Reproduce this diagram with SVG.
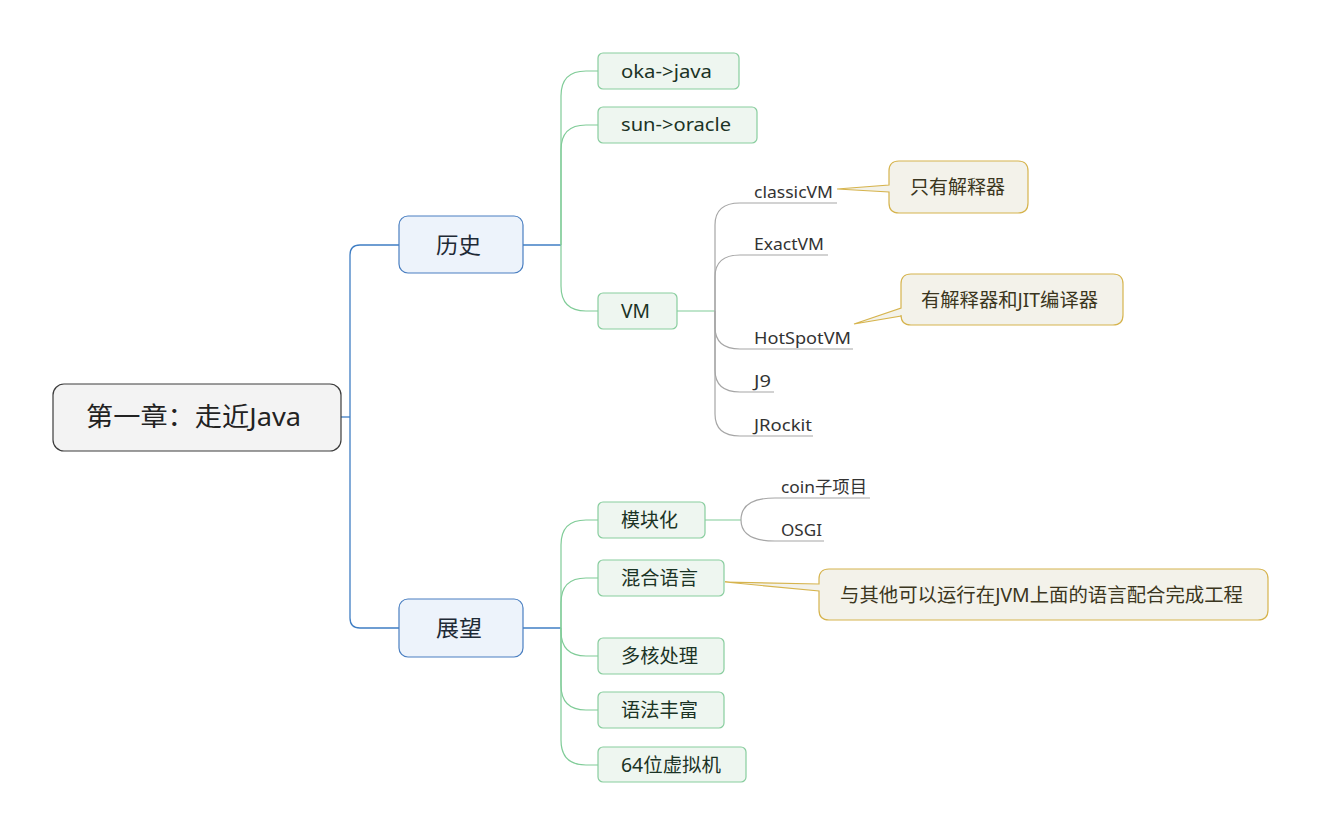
<svg xmlns="http://www.w3.org/2000/svg" width="1322" height="836" viewBox="0 0 1322 836">
<style>
text{font-family:"Noto Sans","Noto Sans CJK SC",sans-serif;}
.root rect{fill:#f3f3f3;stroke:#3c3c3c;stroke-width:1.2;}
.root text{font-size:26px;fill:#222;}
.main rect{fill:#edf3fb;stroke:#4a7fc1;stroke-width:1.2;}
.main text{font-size:22px;fill:#1e2a36;}
.sub rect{fill:#eef6f0;stroke:#88cd9e;stroke-width:1.2;}
.sub text{font-size:19px;fill:#1b3325;}
.leaf text{font-size:17px;fill:#333;}
.note path{fill:#f3f2ea;stroke:#d6b44e;stroke-width:1.2;}
.note text{font-size:19px;fill:#3b3620;}
.blue{fill:none;stroke:#3f7ec4;stroke-width:1.3;}
.green{fill:none;stroke:#80cc98;stroke-width:1.2;}
.gray{fill:none;stroke:#a6a6a6;stroke-width:1.2;}
</style>
<rect width="1322" height="836" fill="#ffffff"/>
<g id="connectors">
<path class="blue" d="M341,417 H350"/>
<path class="blue" d="M350,417 V255 Q350,245 360,245 H399"/>
<path class="blue" d="M350,417 V618 Q350,628 360,628 H399"/>
<path class="blue" d="M523,245 H561"/>
<path class="blue" d="M523,628 H561"/>
<path class="green" d="M561,245 V96 Q561,71 586,71 H598"/>
<path class="green" d="M561,245 V150 Q561,125 586,125 H598"/>
<path class="green" d="M561,245 V286 Q561,311 586,311 H598"/>
<path class="green" d="M561,628 V545 Q561,520 586,520 H598"/>
<path class="green" d="M561,628 V603 Q561,578 586,578 H598"/>
<path class="green" d="M561,628 V631 Q561,656 586,656 H598"/>
<path class="green" d="M561,628 V685 Q561,710 586,710 H598"/>
<path class="green" d="M561,628 V740 Q561,765 586,765 H598"/>
<path class="green" d="M677,311 H715"/>
<path class="green" d="M705,520 H741"/>
<path class="gray" d="M715,311 V225 Q715,203 740,203 H837"/>
<path class="gray" d="M715,311 V277 Q715,255 740,255 H828"/>
<path class="gray" d="M715,311 V327 Q715,349 740,349 H853"/>
<path class="gray" d="M715,311 V370 Q715,392 740,392 H774"/>
<path class="gray" d="M715,311 V414 Q715,436 740,436 H813"/>
<path class="gray" d="M741,520 Q741,498 775,498 H870"/>
<path class="gray" d="M741,520 Q741,541 775,541 H824"/>
</g>
<g id="root" class="root">
<rect x="53" y="384" width="288" height="67" rx="11"/>
<text x="86" y="426" textLength="215" lengthAdjust="spacingAndGlyphs">第一章：走近Java</text>
</g>
<g id="history" class="main">
<rect x="399" y="216" width="124" height="57" rx="9"/>
<text x="436" y="253" textLength="45" lengthAdjust="spacingAndGlyphs">历史</text>
</g>
<g id="outlook" class="main">
<rect x="399" y="599" width="124" height="58" rx="9"/>
<text x="436" y="636" textLength="46" lengthAdjust="spacingAndGlyphs">展望</text>
</g>
<g id="oka" class="sub">
<rect x="598" y="53" width="141" height="36" rx="5"/>
<text x="621" y="78" textLength="91" lengthAdjust="spacingAndGlyphs" style="font-size:18px">oka-&gt;java</text>
</g>
<g id="sun" class="sub">
<rect x="598" y="107" width="159" height="36" rx="5"/>
<text x="621" y="131" textLength="110" lengthAdjust="spacingAndGlyphs" style="font-size:18px">sun-&gt;oracle</text>
</g>
<g id="vm" class="sub">
<rect x="598" y="293" width="79" height="36" rx="5"/>
<text x="621" y="318" textLength="29" lengthAdjust="spacingAndGlyphs">VM</text>
</g>
<g id="classicvm" class="leaf"><text x="754" y="197.5" textLength="79" lengthAdjust="spacingAndGlyphs">classicVM</text></g>
<g id="exactvm" class="leaf"><text x="754" y="249.5" textLength="70" lengthAdjust="spacingAndGlyphs">ExactVM</text></g>
<g id="hotspotvm" class="leaf"><text x="754" y="343.5" textLength="97" lengthAdjust="spacingAndGlyphs">HotSpotVM</text></g>
<g id="j9" class="leaf"><text x="754" y="386.5" textLength="17" lengthAdjust="spacingAndGlyphs">J9</text></g>
<g id="jrockit" class="leaf"><text x="754" y="430.5" textLength="58" lengthAdjust="spacingAndGlyphs">JRockit</text></g>
<g id="note-classic" class="note">
<path d="M899,161 H1018 Q1028,161 1028,171 V203 Q1028,213 1018,213 H899 Q889,213 889,203 V192 L837,189 L889,185 V171 Q889,161 899,161 Z"/>
<text x="910" y="194" textLength="95" lengthAdjust="spacingAndGlyphs">只有解释器</text>
</g>
<g id="note-hotspot" class="note">
<path d="M911,274 H1113 Q1123,274 1123,284 V315 Q1123,325 1113,325 H911 Q901,325 901,315 V316 L854,324 L901,308 V284 Q901,274 911,274 Z"/>
<text x="921" y="306.5" textLength="177" lengthAdjust="spacingAndGlyphs">有解释器和JIT编译器</text>
</g>
<g id="modular" class="sub">
<rect x="598" y="502" width="107" height="36" rx="5"/>
<text x="621" y="527" textLength="57" lengthAdjust="spacingAndGlyphs">模块化</text>
</g>
<g id="coin" class="leaf"><text x="781" y="492.5" textLength="86" lengthAdjust="spacingAndGlyphs">coin子项目</text></g>
<g id="osgi" class="leaf"><text x="781" y="535.5" textLength="41" lengthAdjust="spacingAndGlyphs">OSGI</text></g>
<g id="mixed" class="sub">
<rect x="598" y="560" width="126" height="36" rx="5"/>
<text x="621" y="585" textLength="77" lengthAdjust="spacingAndGlyphs">混合语言</text>
</g>
<g id="note-mixed" class="note">
<path d="M829,569 H1258 Q1268,569 1268,579 V610 Q1268,620 1258,620 H829 Q819,620 819,610 V591 L725,582 L819,584 V579 Q819,569 829,569 Z"/>
<text x="840" y="601.5" textLength="403" lengthAdjust="spacingAndGlyphs">与其他可以运行在JVM上面的语言配合完成工程</text>
</g>
<g id="multicore" class="sub">
<rect x="598" y="638" width="126" height="36" rx="5"/>
<text x="621" y="663" textLength="77" lengthAdjust="spacingAndGlyphs">多核处理</text>
</g>
<g id="syntax" class="sub">
<rect x="598" y="692" width="126" height="36" rx="5"/>
<text x="621" y="717" textLength="77" lengthAdjust="spacingAndGlyphs">语法丰富</text>
</g>
<g id="vm64" class="sub">
<rect x="598" y="747" width="148" height="35" rx="5"/>
<text x="621" y="771.5" textLength="100" lengthAdjust="spacingAndGlyphs">64位虚拟机</text>
</g>
</svg>
